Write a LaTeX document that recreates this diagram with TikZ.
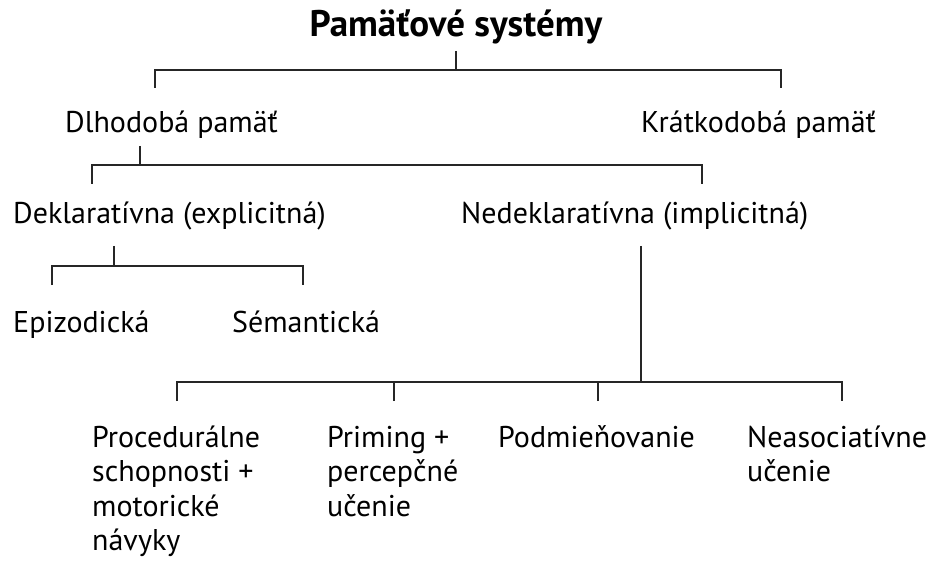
\documentclass[tikz,border=0pt]{standalone}
\usepackage{fontspec}
\setmainfont{PT Sans}
\begin{document}
\begin{tikzpicture}[x=1pt,y=-1pt,
  lbl/.style={anchor=base west,inner sep=0pt,font=\fontsize{30}{35}\selectfont},
  ttl/.style={anchor=base,inner sep=0pt,font=\fontsize{37}{42}\selectfont\bfseries},
  conn/.style={line width=1.4pt,draw=black!85}]
\useasboundingbox (0,0) rectangle (931,561);
% nodes
\node[ttl] (title) at (456,37) {Pamäťové systémy};
\node[lbl] (dlho) at (65,133) {Dlhodobá pamäť};
\node[lbl] (krat) at (641,133) {Krátkodobá pamäť};
\node[lbl] (dekl) at (13,224) {Deklaratívna (explicitná)};
\node[lbl] (nedekl) at (461,224) {Nedeklaratívna (implicitná)};
\node[lbl] (epi) at (13,332) {Epizodická};
\node[lbl] (sem) at (232,332) {Sémantická};
\node[lbl] (proc) at (92,447) {\vtop{\baselineskip=34.5pt\hbox{Procedurálne}\hbox{schopnosti +}\hbox{motorické}\hbox{návyky}}};
\node[lbl] (prim) at (327,447) {\vtop{\baselineskip=34.5pt\hbox{Priming +}\hbox{percepčné}\hbox{učenie}}};
\node[lbl] (podm) at (498,447) {Podmieňovanie};
\node[lbl] (neas) at (747,447) {\vtop{\baselineskip=34.5pt\hbox{Neasociatívne}\hbox{učenie}}};
% junction coordinates
\coordinate (t0) at (456,51);
\coordinate (t1) at (456,70);
\coordinate (tL) at (155,88);
\coordinate (tR) at (781,88);
\coordinate (d0) at (140,146);
\coordinate (d1) at (140,165);
\coordinate (dL) at (92,184);
\coordinate (dR) at (702,184);
\coordinate (e0) at (114,246);
\coordinate (e1) at (114,266);
\coordinate (eL) at (52,285);
\coordinate (eR) at (303,285);
\coordinate (n0) at (641,246);
\coordinate (n1) at (641,382);
\coordinate (p1) at (177,401);
\coordinate (p2) at (394,401);
\coordinate (p3) at (598,401);
\coordinate (p4) at (842,401);
% connectors
\draw[conn] (t0) -- (t1);
\draw[conn] (tL) |- (t1) -| (tR);
\draw[conn] (d0) -- (d1);
\draw[conn] (dL) |- (d1) -| (dR);
\draw[conn] (e0) -- (e1);
\draw[conn] (eL) |- (e1) -| (eR);
\draw[conn] (n0) -- (n1);
\draw[conn] (p1) |- (n1) -| (p4);
\draw[conn] (p2) -- (p2 |- n1);
\draw[conn] (p3) -- (p3 |- n1);
\end{tikzpicture}
\end{document}
